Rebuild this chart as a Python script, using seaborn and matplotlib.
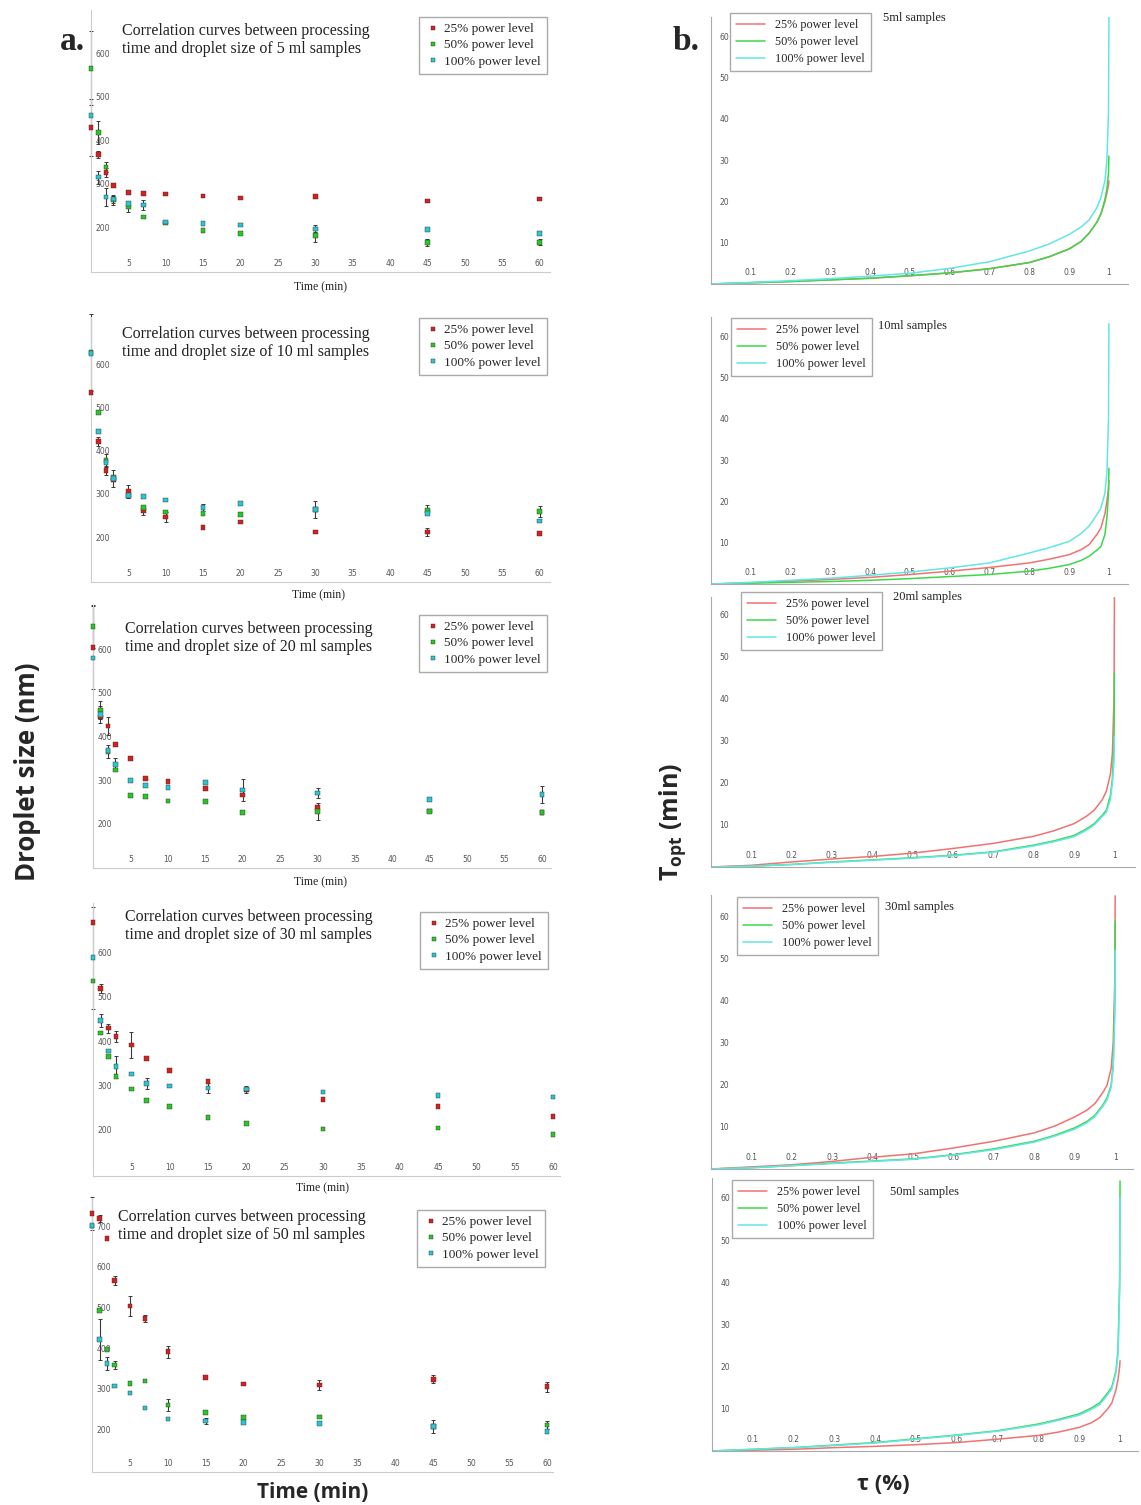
import matplotlib
matplotlib.use('Agg')
import matplotlib.pyplot as plt
import numpy as np
import pandas as pd
import seaborn as sns

W, H = 1141, 1505

# ---------------- data: panel a (droplet size vs time) ----------------
times = [0, 1, 2, 3, 5, 7, 10, 15, 20, 30, 45, 60]
power_levels = ['25% power level', '50% power level', '100% power level']
x_ticks_a = [5, 10, 15, 20, 25, 30, 35, 40, 45, 50, 55, 60]

# 5 ml
d5_p25 = [429, 367, 325, 296, 279, 278, 276, 272, 267, 271, 260, 265]
e5_p25 = [65, 8, 10, 0, 0, 0, 0, 0, 0, 0, 0, 0]
d5_p50 = [565, 418, 338, 262, 246, 223, 210, 192, 185, 181, 165, 165]
e5_p50 = [85, 27, 12, 10, 10, 0, 0, 0, 0, 15, 8, 7]
d5_p100 = [457, 315, 269, 265, 254, 251, 212, 209, 205, 196, 194, 186]
e5_p100 = [0, 15, 20, 10, 0, 12, 0, 0, 0, 8, 0, 0]
# 10 ml
d10_p25 = [535, 421, 354, 332, 306, 262, 246, 222, 235, 212, 212, 208]
e10_p25 = [0, 10, 10, 0, 15, 10, 12, 0, 0, 0, 10, 0]
d10_p50 = [627, 488, 377, 338, 295, 268, 258, 254, 252, 264, 262, 259]
e10_p50 = [90, 0, 15, 0, 0, 0, 0, 0, 0, 20, 12, 12]
d10_p100 = [625, 444, 373, 335, 296, 294, 286, 269, 277, 264, 254, 237]
e10_p100 = [0, 0, 0, 20, 0, 0, 0, 8, 0, 0, 0, 0]
# 20 ml
d20_p25 = [605, 445, 424, 382, 349, 304, 297, 281, 266, 237, 229, 225]
e20_p25 = [95, 0, 20, 0, 0, 0, 0, 0, 0, 0, 0, 0]
d20_p50 = [653, 461, 366, 323, 264, 262, 252, 251, 226, 228, 228, 225]
e20_p50 = [50, 20, 15, 0, 0, 0, 0, 0, 0, 20, 0, 0]
d20_p100 = [580, 450, 368, 335, 299, 287, 283, 295, 277, 270, 256, 267]
e20_p100 = [0, 20, 0, 15, 0, 0, 0, 0, 25, 12, 0, 20]
# 30 ml
d30_p25 = [667, 519, 429, 410, 391, 361, 334, 309, 290, 268, 253, 230]
e30_p25 = [0, 10, 10, 12, 30, 0, 0, 0, 8, 0, 0, 0]
d30_p50 = [535, 418, 365, 320, 292, 266, 252, 228, 214, 202, 204, 190]
e30_p50 = [0, 0, 0, 0, 0, 0, 0, 0, 0, 0, 0, 0]
d30_p100 = [588, 446, 378, 342, 326, 305, 299, 294, 292, 285, 277, 274]
e30_p100 = [115, 15, 0, 25, 0, 12, 0, 12, 0, 0, 0, 0]
# 50 ml
d50_p25 = [731, 719, 670, 566, 503, 473, 391, 327, 311, 309, 323, 305]
e50_p25 = [40, 8, 0, 10, 25, 8, 15, 0, 0, 12, 10, 12]
d50_p50 = [700, 493, 397, 358, 313, 319, 260, 241, 229, 230, 207, 211]
e50_p50 = [0, 0, 0, 10, 0, 0, 15, 0, 0, 0, 15, 10]
d50_p100 = [702, 421, 362, 307, 289, 252, 225, 220, 217, 215, 207, 194]
e50_p100 = [0, 50, 15, 0, 0, 0, 0, 8, 0, 0, 0, 0]

# ---------------- data: panel b (T_opt vs tau) ----------------
tau = [0, 0.1, 0.2, 0.3, 0.4, 0.5, 0.6, 0.7, 0.8, 0.85, 0.9, 0.93, 0.95, 0.97, 0.98, 0.99, 0.995, 0.999, 1.0]
x_ticks_b = [0.1, 0.2, 0.3, 0.4, 0.5, 0.6, 0.7, 0.8, 0.9, 1]
y_ticks_b = [10, 20, 30, 40, 50, 60]

t5_p25 = [0, 0.3, 0.6, 1.0, 1.4, 2.0, 2.7, 3.7, 5.2, 6.6, 8.5, 10.3, 12.3, 15, 17, 20, 22, 24, 25]
t5_p50 = [0, 0.3, 0.6, 1.0, 1.4, 2.0, 2.7, 3.7, 5.2, 6.6, 8.5, 10.3, 12.3, 15, 17, 20.5, 23, 27, 31]
t5_p100 = [0, 0.4, 0.8, 1.3, 1.9, 2.6, 3.8, 5.4, 8.0, 9.7, 12.0, 13.8, 15.5, 18.5, 21, 25, 30, 42, 65]

t10_p25 = [0, 0.3, 0.7, 1.1, 1.6, 2.3, 3.1, 4.0, 5.1, 6.0, 7.1, 8.3, 9.5, 12, 13.6, 17, 20, 23, 25]
t10_p50 = [0, 0.2, 0.4, 0.6, 0.9, 1.3, 1.8, 2.3, 3.1, 3.8, 4.7, 5.7, 6.7, 8.2, 9.1, 12, 16, 22, 28]
t10_p100 = [0, 0.4, 0.9, 1.4, 2.1, 2.9, 3.9, 5.1, 7.5, 8.8, 10.3, 12.2, 14, 16.8, 18.4, 22, 27, 40, 63]

t20_p25 = [0, 0.4, 1.2, 1.9, 2.5, 3.3, 4.4, 5.6, 7.3, 8.6, 10.3, 12, 13.5, 16, 18, 22, 27, 40, 64]
t20_p50 = [0, 0.2, 0.6, 1.2, 1.7, 2.2, 2.8, 3.6, 5.2, 6.2, 7.5, 9, 10.3, 12.3, 13.5, 17, 21, 30, 46]
t20_p100 = [0, 0.2, 0.6, 1.1, 1.6, 2.1, 2.7, 3.5, 5.0, 6.0, 7.2, 8.7, 10.0, 12, 13.0, 16, 20, 25, 31]

t30_p25 = [0, 0.5, 1.0, 1.8, 2.8, 3.6, 5.0, 6.6, 8.6, 10.2, 12.4, 14, 15.6, 18.3, 20, 24, 30, 45, 65]
t30_p50 = [0, 0.3, 0.8, 1.4, 1.9, 2.4, 3.4, 4.8, 6.6, 8.0, 9.8, 11.3, 12.8, 15.3, 17, 20, 25, 40, 59]
t30_p100 = [0, 0.3, 0.8, 1.3, 1.8, 2.3, 3.3, 4.6, 6.4, 7.8, 9.5, 11, 12.5, 15, 16.5, 19.5, 24, 36, 52]

t50_p25 = [0, 0.2, 0.4, 0.8, 1.1, 1.5, 2.0, 2.8, 3.7, 4.5, 5.6, 6.7, 7.9, 10, 11.4, 14.5, 17, 20, 21.4]
t50_p50 = [0, 0.4, 0.8, 1.4, 2.0, 2.9, 3.8, 4.8, 6.4, 7.5, 8.8, 10.2, 11.4, 13.8, 15.2, 19, 24, 40, 64]
t50_p100 = [0, 0.4, 0.8, 1.3, 1.9, 2.8, 3.7, 4.7, 6.2, 7.3, 8.5, 9.9, 11.0, 13.4, 14.8, 18.5, 23, 38, 60]

# ---------------- styling ----------------
sns.set_theme(style='white')
plt.rcParams['font.family'] = ['DejaVu Sans']
plt.rcParams['mathtext.fontset'] = 'custom'
plt.rcParams['mathtext.rm'] = 'Open Sans'
plt.rcParams['mathtext.bf'] = 'Open Sans:bold'
SERIF = 'Liberation Serif'

pt_colors = {'25% power level': '#d42020', '50% power level': '#25c825', '100% power level': '#25c8d4'}
ln_colors = {'25% power level': '#f07272', '50% power level': '#3cd84a', '100% power level': '#62e6e6'}

fig = plt.figure(figsize=(W / 100, H / 100), dpi=100)


def add_ax(x0, y0, x1, y1):
    return fig.add_axes([x0 / W, 1 - y1 / H, (x1 - x0) / W, (y1 - y0) / H])


def style_axes(ax, spine_color):
    for s in ['top', 'right']:
        ax.spines[s].set_visible(False)
    for s in ['left', 'bottom']:
        ax.spines[s].set_color(spine_color)
        ax.spines[s].set_linewidth(0.8)
    ax.set_xlabel('')
    ax.set_ylabel('')


left_panels = [
    dict(vol='5', box=(91, 10, 550, 272), xlim=61.4, ylim=(97, 699), yt=[200, 300, 400, 500, 600],
         data=(d5_p25, d5_p50, d5_p100), err=(e5_p25, e5_p50, e5_p100),
         title=(122, 40), leg=(547, 17), tl=(320, 287)),
    dict(vol='10', box=(91, 317, 550, 582), xlim=61.4, ylim=(96, 709), yt=[200, 300, 400, 500, 600],
         data=(d10_p25, d10_p50, d10_p100), err=(e10_p25, e10_p50, e10_p100),
         title=(122, 343), leg=(547, 318), tl=(318, 595)),
    dict(vol='20', box=(93, 605, 551, 868), xlim=61.2, ylim=(98, 702), yt=[200, 300, 400, 500, 600],
         data=(d20_p25, d20_p50, d20_p100), err=(e20_p25, e20_p50, e20_p100),
         title=(125, 638), leg=(547, 615), tl=(320, 882)),
    dict(vol='30', box=(93, 903, 560, 1176), xlim=60.9, ylim=(96, 711), yt=[200, 300, 400, 500, 600],
         data=(d30_p25, d30_p50, d30_p100), err=(e30_p25, e30_p50, e30_p100),
         title=(125, 926), leg=(548, 912), tl=(322, 1188)),
    dict(vol='50', box=(92, 1198, 553, 1472), xlim=60.8, ylim=(95, 769), yt=[200, 300, 400, 500, 600, 700],
         data=(d50_p25, d50_p50, d50_p100), err=(e50_p25, e50_p50, e50_p100),
         title=(118, 1226), leg=(545, 1210), tl=None),
]

for p in left_panels:
    ax = add_ax(*p['box'])
    frames = []
    for lvl, vals, errs in zip(power_levels, p['data'], p['err']):
        frames.append(pd.DataFrame({'Time': times, 'Size': vals, 'Err': errs, 'Power': lvl}))
    df = pd.concat(frames, ignore_index=True)
    eb = df[df['Err'] > 0]
    cont = ax.errorbar(eb['Time'], eb['Size'], yerr=eb['Err'], fmt='none', ecolor='#3a3a3a',
                       elinewidth=0.8, capsize=1.6, capthick=0.7, zorder=2)
    for child in cont.get_children():
        child.set_clip_on(False)
    sns.scatterplot(data=df, x='Time', y='Size', hue='Power', hue_order=power_levels,
                    palette=pt_colors, marker='s', s=11, edgecolor='#3a2a2a', linewidth=0.3,
                    ax=ax, zorder=3, clip_on=False)
    handles, labels = ax.get_legend_handles_labels()
    ax.legend(handles, labels, loc='upper right',
              bbox_to_anchor=(p['leg'][0] / W, 1 - p['leg'][1] / H), bbox_transform=fig.transFigure,
              prop={'family': SERIF, 'size': 9.5}, frameon=True, fancybox=False,
              edgecolor='#aaaaaa', framealpha=1, borderpad=0.45, handletextpad=0.3,
              labelspacing=0.3, markerscale=0.9, handlelength=1.2, borderaxespad=0)
    ax.set_xlim(0, p['xlim'])
    ax.set_ylim(*p['ylim'])
    ax.set_xticks(x_ticks_a)
    ax.set_xticklabels([str(v) for v in x_ticks_a])
    ax.set_yticks(p['yt'])
    ax.set_yticklabels([str(v) for v in p['yt']])
    ax.tick_params(axis='x', direction='in', length=2, width=0.6, color='#bbbbbb',
                   pad=-3, labelsize=5.5, labelcolor='#555555')
    ax.tick_params(axis='y', direction='in', length=0, pad=-3, labelsize=5.5, labelcolor='#555555')
    for t in ax.get_xticklabels():
        t.set_verticalalignment('bottom')
    for t in ax.get_yticklabels():
        t.set_horizontalalignment('left')
    style_axes(ax, '#cccccc')
    fig.text(p['title'][0] / W, 1 - p['title'][1] / H,
             'Correlation curves between processing\ntime and droplet size of %s ml samples' % p['vol'],
             family=SERIF, fontsize=11.5, va='center', ha='left', linespacing=1.2, color='#222222')
    if p['tl'] is not None:
        fig.text(p['tl'][0] / W, 1 - p['tl'][1] / H, 'Time (min)', family=SERIF, fontsize=8.5,
                 ha='center', va='center', color='#222222')

right_panels = [
    dict(vol='5', box=(711, 17, 1128, 284), xlim=1.048, ylim=64.7,
         data=(t5_p25, t5_p50, t5_p100), leg=(730, 13), lab=(883, 18)),
    dict(vol='10', box=(711, 317, 1128, 584), xlim=1.048, ylim=64.6,
         data=(t10_p25, t10_p50, t10_p100), leg=(731, 318), lab=(878, 326)),
    dict(vol='20', box=(711, 597, 1135, 867), xlim=1.051, ylim=64.1,
         data=(t20_p25, t20_p50, t20_p100), leg=(741, 592), lab=(893, 597)),
    dict(vol='30', box=(711, 895, 1133, 1169), xlim=1.044, ylim=65.2,
         data=(t30_p25, t30_p50, t30_p100), leg=(737, 897), lab=(885, 907)),
    dict(vol='50', box=(712, 1178, 1138, 1451), xlim=1.044, ylim=64.7,
         data=(t50_p25, t50_p50, t50_p100), leg=(732, 1180), lab=(890, 1192)),
]

for p in right_panels:
    ax = add_ax(*p['box'])
    frames = []
    for lvl, vals in zip(power_levels, p['data']):
        frames.append(pd.DataFrame({'tau': tau, 'T': vals, 'Power': lvl}))
    dfc = pd.concat(frames, ignore_index=True)
    sns.lineplot(data=dfc, x='tau', y='T', hue='Power', hue_order=power_levels,
                 palette=ln_colors, estimator=None, sort=False, linewidth=1.1, ax=ax)
    handles, labels = ax.get_legend_handles_labels()
    ax.legend(handles, labels, loc='upper left',
              bbox_to_anchor=(p['leg'][0] / W, 1 - p['leg'][1] / H), bbox_transform=fig.transFigure,
              prop={'family': SERIF, 'size': 8.8}, frameon=True, fancybox=False,
              edgecolor='#aaaaaa', framealpha=1, borderpad=0.5, handletextpad=0.8,
              labelspacing=0.4, handlelength=2.4, borderaxespad=0)
    ax.set_xlim(0, p['xlim'])
    ax.set_ylim(0, p['ylim'])
    ax.set_xticks(x_ticks_b)
    ax.set_xticklabels([('%g' % v) for v in x_ticks_b])
    ax.set_yticks(y_ticks_b)
    ax.set_yticklabels([str(v) for v in y_ticks_b])
    ax.tick_params(axis='x', direction='in', length=2.5, width=0.6, color='#999999',
                   pad=-5, labelsize=5.5, labelcolor='#555555')
    ax.tick_params(axis='y', direction='in', length=2.5, width=0.6, color='#999999',
                   pad=-6, labelsize=5.5, labelcolor='#555555')
    for t in ax.get_xticklabels():
        t.set_verticalalignment('bottom')
    for t in ax.get_yticklabels():
        t.set_horizontalalignment('left')
    style_axes(ax, '#aaaaaa')
    fig.text(p['lab'][0] / W, 1 - p['lab'][1] / H, '%sml samples' % p['vol'], family=SERIF,
             fontsize=9, ha='left', va='center', color='#222222')

# ---------------- global labels ----------------
fig.text(72 / W, 1 - 42 / H, 'a.', family=SERIF, fontweight='bold', fontsize=24, ha='center', va='center')
fig.text(686 / W, 1 - 42 / H, 'b.', family=SERIF, fontweight='bold', fontsize=24, ha='center', va='center')
fig.text(28 / W, 1 - 772 / H, 'Droplet size (nm)', family='Open Sans', fontweight='bold', fontsize=18.5,
         rotation=90, ha='center', va='center')
fig.text(313 / W, 1 - 1492 / H, 'Time (min)', family='Open Sans', fontweight='bold', fontsize=15,
         ha='center', va='center')
fig.text(673 / W, 1 - 822 / H, r'$\mathbf{T}_{\mathbf{opt}}$ (min)', family='Open Sans', fontweight='bold',
         fontsize=18, rotation=90, ha='center', va='center')
fig.text(883 / W, 1 - 1485 / H, 'τ (%)', family='Open Sans', fontweight='bold', fontsize=16,
         ha='center', va='center')

fig.savefig('out.png', dpi=100, facecolor='white')
